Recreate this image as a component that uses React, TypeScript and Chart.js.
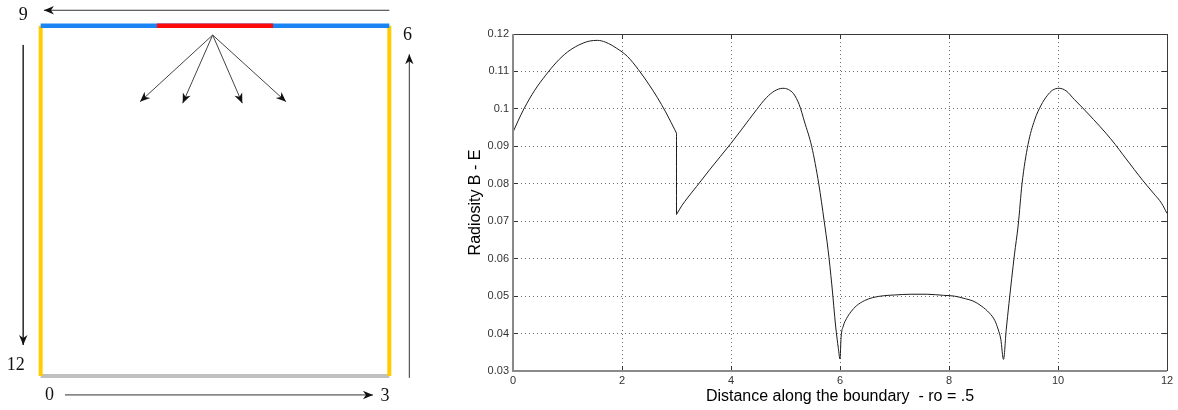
import React, { useEffect, useRef } from 'react';
import { Chart, registerables } from 'chart.js';

Chart.register(...registerables);

// ---------------- Right chart data ----------------
const distance = [
  0.0, 0.1, 0.2, 0.4, 0.6, 0.8, 1.0, 1.2, 1.4, 1.55, 1.7, 1.9, 2.1, 2.3, 2.5, 2.65, 2.8, 2.9, 2.97, 3.0,
  3.0, 3.1, 3.2, 3.37, 3.6, 3.8, 4.0, 4.2, 4.47, 4.65, 4.8, 4.95, 5.05, 5.15, 5.25, 5.35, 5.48, 5.61, 5.71, 5.78, 5.85, 5.92, 5.97, 6.0,
  6.02, 6.06, 6.12, 6.2, 6.3, 6.45, 6.6, 6.8, 7.0, 7.3, 7.6, 7.9, 8.1, 8.3, 8.44, 8.6, 8.74, 8.84, 8.9, 8.95, 9.0,
  9.05, 9.1, 9.2, 9.27, 9.34, 9.45, 9.57, 9.69, 9.8, 9.9, 10.02, 10.15, 10.3, 10.45, 10.65, 10.88, 11.05, 11.19, 11.4, 11.56, 11.75, 11.9, 12.0,
];
const radiosity = [
  0.0938, 0.097, 0.1, 0.105, 0.109, 0.1125, 0.1152, 0.117, 0.1181, 0.1183, 0.1178, 0.1162, 0.114, 0.1105, 0.1064, 0.103, 0.0992, 0.0964, 0.0944, 0.0935,
  0.0718, 0.0742, 0.0762, 0.0793, 0.0836, 0.0872, 0.0908, 0.0946, 0.0998, 0.103, 0.1048, 0.1055, 0.1052, 0.104, 0.1012, 0.0965, 0.09, 0.08, 0.07, 0.0625, 0.053, 0.042, 0.036, 0.0332,
  0.039, 0.042, 0.044, 0.0458, 0.0474, 0.0488, 0.0496, 0.0501, 0.0503, 0.0505, 0.0505, 0.0502, 0.05, 0.0493, 0.0487, 0.0473, 0.0455, 0.0435, 0.0412, 0.0385, 0.0331,
  0.041, 0.048, 0.061, 0.069, 0.08, 0.0905, 0.097, 0.101, 0.1035, 0.105, 0.1055, 0.1048, 0.1025, 0.1003, 0.0972, 0.0935, 0.0905, 0.0878, 0.0838, 0.0808, 0.0775, 0.0748, 0.0721,
];
const xTickValues = [0, 2, 4, 6, 8, 10, 12];
const xTickLabels = ['0', '2', '4', '6', '8', '10', '12'];
const yTickValues = [0.03, 0.04, 0.05, 0.06, 0.07, 0.08, 0.09, 0.1, 0.11, 0.12];
const yTickLabels = ['0.03', '0.04', '0.05', '0.06', '0.07', '0.08', '0.09', '0.1', '0.11', '0.12'];
const xAxisTitle = 'Distance along the boundary  - ro = .5';
const yAxisTitle = 'Radiosity B - E';

// ---------------- Left diagram data (square of side 3) ----------------
const bottomEdge = [[0, 0], [3, 0]];
const rightEdge = [[3, 0], [3, 3]];
const topEdge = [[0, 3], [3, 3]];
const leftEdge = [[0, 0], [0, 3]];
const emitterEdge = [[1, 3], [2, 3]];
const fanOrigin = [1.48, 2.92];
const fanTips = [[0.855, 2.349], [1.222, 2.336], [1.735, 2.336], [2.111, 2.349]];
const directionArrows = [
  [[3.0, 3.132], [0.028, 3.132]],
  [[0.209, -0.162], [2.859, -0.162]],
  [[-0.15, 2.835], [-0.15, 0.266]],
  [[3.172, -0.016], [3.172, 2.755]],
];
const cornerLabels = ['0', '3', '6', '9', '12'];
const cornerLabelPositions = [[0.076, -0.159], [2.963, -0.162], [3.157, 2.925], [-0.15, 3.096], [-0.214, 0.099]];

const toXY = (pts: number[][]) => pts.map(([x, y]) => ({ x, y }));

// split the curve wherever x repeats (vertical jump), so each piece can be drawn smoothly
const curvePieces = () => {
  const pieces: { x: number; y: number }[][] = [];
  let cur: { x: number; y: number }[] = [];
  distance.forEach((x, i) => {
    const p = { x, y: radiosity[i] };
    if (cur.length && cur[cur.length - 1].x === x) {
      const last = cur[cur.length - 1];
      pieces.push(cur);
      pieces.push([last, p]);
      cur = [p];
    } else {
      cur.push(p);
    }
  });
  pieces.push(cur);
  return pieces;
};

const arrowHeadPlugin = {
  id: 'arrowHeads',
  afterDatasetsDraw(chart: any) {
    const ctx = chart.ctx;
    chart.data.datasets.forEach((ds: any, i: number) => {
      if (!ds.arrowHead) return;
      const pts = chart.getDatasetMeta(i).data;
      if (pts.length < 2) return;
      const p1 = pts[pts.length - 2];
      const p2 = pts[pts.length - 1];
      const a = Math.atan2(p2.y - p1.y, p2.x - p1.x);
      const len = 10, hw = 4.2, notch = 3;
      ctx.save();
      ctx.translate(p2.x, p2.y);
      ctx.rotate(a);
      ctx.fillStyle = '#111';
      ctx.beginPath();
      ctx.moveTo(0, 0);
      ctx.lineTo(-len, -hw);
      ctx.lineTo(-len + notch, 0);
      ctx.lineTo(-len, hw);
      ctx.closePath();
      ctx.fill();
      ctx.restore();
    });
  },
};

const cornerLabelPlugin = {
  id: 'cornerLabels',
  afterDraw(chart: any) {
    const { ctx, scales } = chart;
    ctx.save();
    ctx.fillStyle = '#111';
    ctx.font = '18px "Liberation Serif", "Times New Roman", serif';
    ctx.textAlign = 'center';
    ctx.textBaseline = 'middle';
    cornerLabels.forEach((t, i) => {
      const [vx, vy] = cornerLabelPositions[i];
      ctx.fillText(t, scales.x.getPixelForValue(vx), scales.y.getPixelForValue(vy) + 1);
    });
    ctx.restore();
  },
};

const align = (p: number) => Math.round(p - 0.5) + 0.5;

const framePlugin = {
  id: 'matlabFrame',
  afterDatasetsDraw(chart: any) {
    const { ctx, chartArea, scales } = chart;
    const { left, right, top, bottom } = chartArea;
    ctx.save();
    ctx.strokeStyle = '#333';
    ctx.lineWidth = 1;
    ctx.beginPath();
    xTickValues.forEach((v) => {
      const px = align(scales.x.getPixelForValue(v));
      ctx.moveTo(px, bottom);
      ctx.lineTo(px, bottom - 5);
      ctx.moveTo(px, top);
      ctx.lineTo(px, top + 5);
    });
    yTickValues.forEach((v) => {
      const py = align(scales.y.getPixelForValue(v));
      ctx.moveTo(left, py);
      ctx.lineTo(left + 5, py);
      ctx.moveTo(right, py);
      ctx.lineTo(right - 5, py);
    });
    ctx.stroke();
    ctx.strokeStyle = '#3a3a3a';
    ctx.beginPath();
    ctx.moveTo(left, align(top));
    ctx.lineTo(right + 0.5, align(top));
    ctx.moveTo(align(right), top);
    ctx.lineTo(align(right), bottom);
    ctx.stroke();
    ctx.strokeStyle = '#8a8a8a';
    ctx.lineWidth = 2;
    ctx.beginPath();
    ctx.moveTo(Math.round(left), top);
    ctx.lineTo(Math.round(left), Math.round(bottom) + 1);
    ctx.moveTo(Math.round(left) - 1, Math.round(bottom));
    ctx.lineTo(right, Math.round(bottom));
    ctx.stroke();
    ctx.restore();
  },
};

export default function App() {
  const leftRef = useRef<HTMLCanvasElement | null>(null);
  const rightRef = useRef<HTMLCanvasElement | null>(null);

  useEffect(() => {
    const lineDs = (pts: number[][], color: string, width: number, arrow = false) => ({
      data: toXY(pts),
      showLine: true,
      borderColor: color,
      borderWidth: width,
      pointRadius: 0,
      fill: false,
      clip: false,
      arrowHead: arrow,
    });

    const leftChart = new Chart(leftRef.current as HTMLCanvasElement, {
      type: 'scatter',
      data: {
        datasets: [
          ...fanTips.map((tip) => lineDs([fanOrigin, tip], '#444', 1, true)),
          ...directionArrows.map((a) => lineDs(a, '#333', 1, true)),
          lineDs(emitterEdge, '#ff0a0a', 4.5),
          lineDs(topEdge, '#1a84f5', 4.5),
          lineDs(leftEdge, '#ffcc00', 4),
          lineDs(rightEdge, '#ffcc00', 4),
          lineDs(bottomEdge, '#c0c0c0', 4),
        ] as any,
      },
      options: {
        responsive: false,
        animation: false,
        events: [],
        layout: { padding: 0 },
        plugins: { legend: { display: false }, tooltip: { enabled: false } },
        scales: {
          x: { type: 'linear', min: -0.35, max: 3.35, display: false },
          y: { type: 'linear', min: -0.291, max: 3.22, display: false },
        },
      },
      plugins: [arrowHeadPlugin, cornerLabelPlugin],
    });

    const rightChart = new Chart(rightRef.current as HTMLCanvasElement, {
      type: 'scatter',
      data: {
        datasets: curvePieces().map((piece) => ({
          data: piece,
          showLine: true,
          borderColor: '#1c1c1c',
          borderWidth: 1,
          pointRadius: 0,
          fill: false,
          cubicInterpolationMode: 'monotone',
        })) as any,
      },
      options: {
        responsive: false,
        animation: false,
        events: [],
        layout: { padding: { top: 34, right: 11, left: 0, bottom: 0 } },
        plugins: { legend: { display: false }, tooltip: { enabled: false } },
        scales: {
          x: {
            type: 'linear',
            min: 0,
            max: 12,
            afterFit: (s: any) => { s.height = 39; },
            afterBuildTicks: (s: any) => { s.ticks = xTickValues.map((v) => ({ value: v })); },
            ticks: {
              autoSkip: false,
              maxRotation: 0,
              padding: 3,
              color: '#333',
              font: { family: '"Liberation Sans", Arial, sans-serif', size: 11 },
              callback: (_v: any, i: number) => xTickLabels[i],
            },
            grid: { color: '#6a6a6a', lineWidth: 1, drawTicks: false },
            border: { display: false, dash: [1, 3] },
            title: {
              display: true,
              text: xAxisTitle,
              color: '#000',
              font: { family: '"Liberation Sans", Arial, sans-serif', size: 16 },
              padding: { top: 0, bottom: 3.4 },
            },
          },
          y: {
            type: 'linear',
            min: 0.03,
            max: 0.12,
            afterFit: (s: any) => { s.width = 83; },
            afterBuildTicks: (s: any) => { s.ticks = yTickValues.map((v) => ({ value: v })); },
            ticks: {
              autoSkip: false,
              padding: 4,
              color: '#333',
              font: { family: '"Liberation Sans", Arial, sans-serif', size: 11 },
              callback: (_v: any, i: number) => yTickLabels[i],
            },
            grid: { color: '#6a6a6a', lineWidth: 1, drawTicks: false },
            border: { display: false, dash: [1, 3] },
            title: {
              display: true,
              text: yAxisTitle,
              color: '#000',
              font: { family: '"Liberation Sans", Arial, sans-serif', size: 16 },
              padding: { top: 35.9, bottom: 0 },
            },
          },
        },
      },
      plugins: [framePlugin],
    });

    return () => {
      leftChart.destroy();
      rightChart.destroy();
    };
  }, []);

  return (
    <div style={{ position: 'absolute', left: 0, top: 0, width: 1178, height: 410, background: '#fff' }}>
      <canvas
        ref={leftRef}
        width={430}
        height={410}
        style={{ position: 'absolute', left: 0, top: 0, width: 430, height: 410 }}
      />
      <canvas
        ref={rightRef}
        width={748}
        height={410}
        style={{ position: 'absolute', left: 430, top: 0, width: 748, height: 410 }}
      />
    </div>
  );
}
